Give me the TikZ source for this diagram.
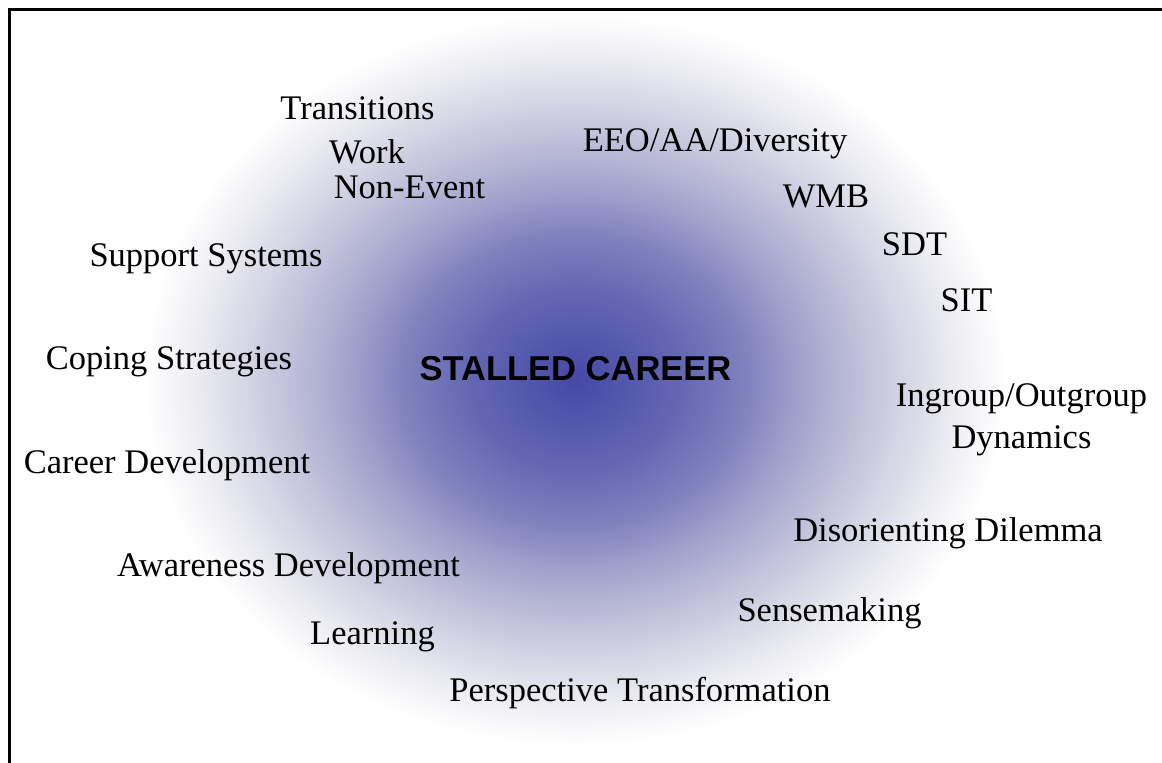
\documentclass[tikz,border=0pt]{standalone}
\usepackage{fontspec}
\setmainfont{Liberation Serif}
\newfontfamily\arialfont{Liberation Sans}
\definecolor{glowA}{HTML}{4549A6}
\definecolor{glowB}{HTML}{6266B2}
\definecolor{glowC}{HTML}{8082BD}
\definecolor{glowD}{HTML}{A0A1CB}
\definecolor{glowE}{HTML}{BBBBD7}
\definecolor{glowF}{HTML}{D8D8E6}
\definecolor{glowG}{HTML}{EFEFF4}
\pgfdeclareradialshading{glow}{\pgfpoint{0bp}{0bp}}{color(0bp)=(glowA); color(6bp)=(glowB); color(10bp)=(glowC); color(13bp)=(glowD); color(16bp)=(glowE); color(19.5bp)=(glowF); color(22.5bp)=(glowG); color(25bp)=(white); color(50bp)=(white)}
\tikzset{
  lbl/.style={anchor=base, inner sep=0pt, font=\fontsize{34.5}{42}\selectfont},
  title/.style={anchor=base, inner sep=0pt, font=\arialfont\bfseries\fontsize{34.5}{42}\selectfont},
  frame/.style={line width=3pt, black}
}
\begin{document}
\begin{tikzpicture}[x=1pt,y=-1pt]
\useasboundingbox (0,0) rectangle (1162,763);
\begin{scope}
\clip (0,0) rectangle (1162,763);
\shade[shading=glow] (575,380) ellipse (430 and 365);
\end{scope}
\draw[frame] (9.5,763) -- (9.5,9.5) -- (1162,9.5);
\node[title] (stalled) at (575.5,380) {STALLED CAREER};
\node[lbl] (transitions) at (357.5,119) {Transitions};
\node[lbl] (work) at (367,163) {Work};
\node[lbl] (nonevent) at (409.5,198) {Non-Event};
\node[lbl] (eeo) at (715,151) {EEO/AA/Diversity};
\node[lbl] (wmb) at (826,207) {WMB};
\node[lbl] (sdt) at (914.5,255) {SDT};
\node[lbl] (sit) at (966.5,311) {SIT};
\node[lbl] (support) at (206,266) {Support Systems};
\node[lbl] (coping) at (169,369) {Coping Strategies};
\node[lbl] (ingroup) at (1021.5,406) {Ingroup/Outgroup};
\node[lbl] (dynamics) at (1021.5,448) {Dynamics};
\node[lbl] (career) at (167,473) {Career Development};
\node[lbl] (disorienting) at (948,541) {Disorienting Dilemma};
\node[lbl] (awareness) at (288.5,576) {Awareness Development};
\node[lbl] (sensemaking) at (829.5,621) {Sensemaking};
\node[lbl] (learning) at (372.5,644) {Learning};
\node[lbl] (perspective) at (640,701) {Perspective Transformation};
\end{tikzpicture}
\end{document}
